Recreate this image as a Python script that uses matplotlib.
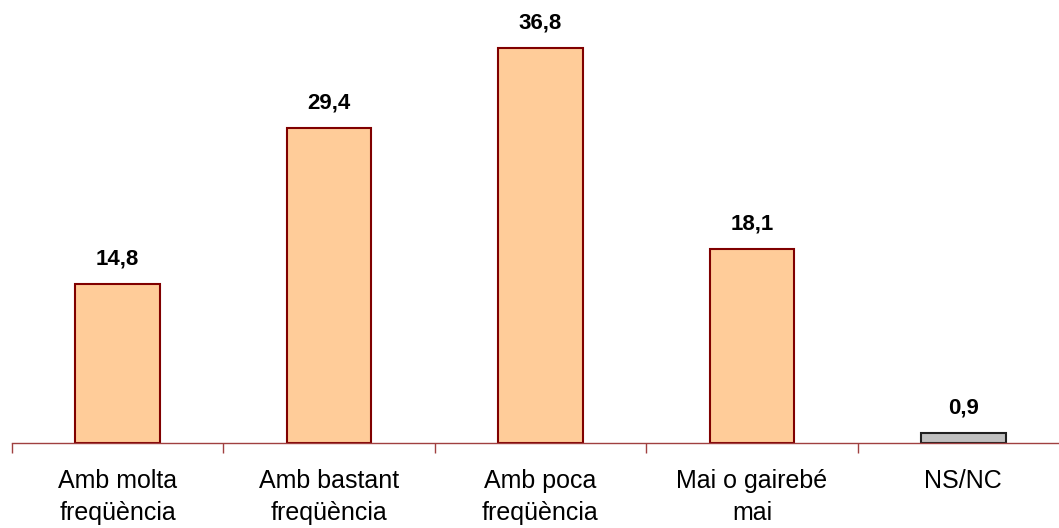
import matplotlib.pyplot as plt
import numpy as np

plt.rcParams['font.family'] = ['Liberation Sans', 'DejaVu Sans']

# chart data
categories = ['Amb molta\nfreqüència', 'Amb bastant\nfreqüència', 'Amb poca\nfreqüència',
              'Mai o gairebé\nmai', 'NS/NC']
values = [14.8, 29.4, 36.8, 18.1, 0.9]
value_labels = ['14,8', '29,4', '36,8', '18,1', '0,9']
face_colors = ['#FFCC99', '#FFCC99', '#FFCC99', '#FFCC99', '#C0C0C0']
edge_colors = ['#800000', '#800000', '#800000', '#800000', '#202020']

fig = plt.figure(figsize=(10.59, 5.28), dpi=100)
# axes runs a bit past the right edge, like the original
ax = fig.add_axes([12 / 1059, 85 / 528, 1057 / 1059, 443 / 528])

x = np.arange(len(categories))
bars = ax.bar(x, values, width=0.40, color=face_colors, edgecolor=edge_colors,
              linewidth=1.5, zorder=2)

for xi, v, lab in zip(x, values, value_labels):
    ax.annotate(lab, (xi, v), xytext=(0, 14), textcoords='offset points',
                ha='center', va='baseline', fontsize=16, fontweight='bold')

ax.set_xlim(-0.5, len(categories) - 0.5)
ax.set_ylim(0, 41.3)

# tick marks at category boundaries, labels at centres
ax.set_xticks(np.arange(len(categories) + 1) - 0.5)
ax.set_xticklabels([])
ax.tick_params(axis='x', which='major', direction='out', length=7, width=1, color='#A04040')
ax.set_xticks(x, minor=True)
ax.set_xticklabels(categories, minor=True, fontsize=18, multialignment='center',
                   linespacing=1.4)
ax.tick_params(axis='x', which='minor', length=0, pad=19)

ax.set_yticks([])
for s in ['top', 'right', 'left']:
    ax.spines[s].set_visible(False)
ax.spines['bottom'].set_color('#A04040')
ax.spines['bottom'].set_linewidth(1)
ax.spines['bottom'].set_zorder(3)

fig.savefig('out.png', dpi=100)
